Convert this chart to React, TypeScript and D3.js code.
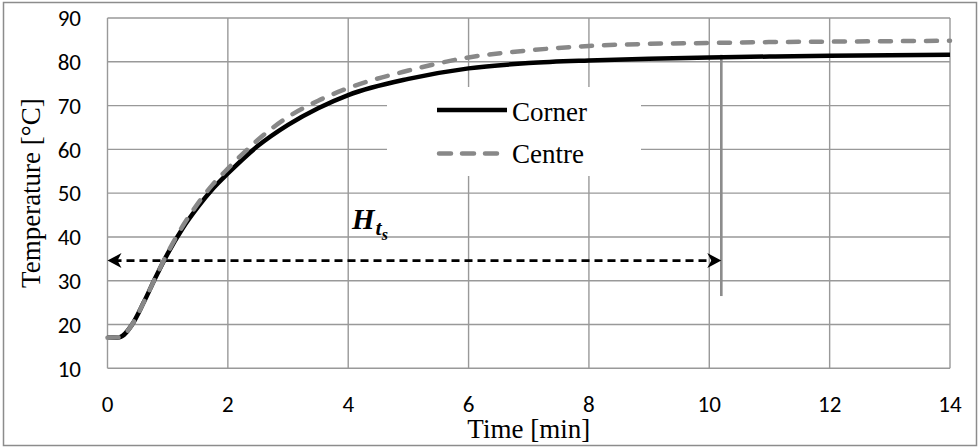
import React from 'react';
import * as d3 from 'd3';

// time [min]
const times = [0, 0.2, 0.4, 0.6, 0.8, 1.0, 1.25, 1.5, 1.75, 2, 2.5, 3, 3.5, 4, 5, 6, 7, 8, 9, 10, 11, 12, 13, 14];
// temperature [°C]
const corner = [17, 17.1, 19.8, 25, 30.8, 36.2, 42, 46.8, 51, 54.5, 60.8, 65.6, 69.4, 72.4, 76.1, 78.5, 79.7, 80.3, 80.7, 81.0, 81.2, 81.4, 81.5, 81.6];
const centre = [17, 17.1, 19.8, 25, 30.8, 36.4, 42.5, 47.6, 52, 55.6, 62.2, 67.4, 71.1, 74, 78, 81, 82.6, 83.6, 84.1, 84.3, 84.5, 84.6, 84.7, 84.8];

const xTicks = [0, 2, 4, 6, 8, 10, 12, 14];
const yTicks = [10, 20, 30, 40, 50, 60, 70, 80, 90];

// settling time marker
const tsTime = 10.2;
const arrowTemp = 34.6;
const markerRange = [26.5, 81.6];

const W = 980;
const H = 448;
const margin = { top: 18, right: 30, bottom: 79.7, left: 107.5 };

const tickFont = "Carlito, Calibri, 'Open Sans', sans-serif";
const serif = "'Liberation Serif', 'Times New Roman', serif";

export default function App() {
  const x = d3.scaleLinear().domain([0, 14]).range([margin.left, W - margin.right]);
  const y = d3.scaleLinear().domain([10, 90]).range([H - margin.bottom, margin.top]);

  const line = d3
    .line<number>()
    .x((_, i) => x(times[i]))
    .y((d) => y(d))
    .curve(d3.curveMonotoneX);

  const ay = y(arrowTemp);
  const ax0 = x(0);
  const ax1 = x(tsTime);

  // legend box
  const lg = { x: 387, y: 87, w: 254, h: 89 };

  return (
    <div style={{ position: 'absolute', left: 0, top: 0 }}>
      <svg width={W} height={H} style={{ display: 'block', background: '#fff' }}>
        <rect x={3.5} y={2.5} width={973} height={443} fill="#fff" stroke="#8c8c8c" strokeWidth={1.5} />

        {/* grid */}
        <g stroke="#999" strokeWidth={1.4}>
          {yTicks.map((t) => (
            <line key={'gy' + t} x1={x(0)} x2={x(14)} y1={y(t)} y2={y(t)} />
          ))}
          {xTicks.map((t) => (
            <line key={'gx' + t} x1={x(t)} x2={x(t)} y1={y(10)} y2={y(90)} />
          ))}
        </g>

        {/* tick labels */}
        <g fontFamily={tickFont} fontSize={23} fill="#000">
          {yTicks.map((t) => (
            <text key={'ly' + t} x={81} y={y(t)} dy="0.36em" textAnchor="end">
              {t}
            </text>
          ))}
          {xTicks.map((t) => (
            <text key={'lx' + t} x={x(t)} y={411.5} textAnchor="middle">
              {t}
            </text>
          ))}
        </g>

        {/* axis titles */}
        <text x={x(7)} y={438} textAnchor="middle" fontFamily={serif} fontSize={27}>
          Time [min]
        </text>
        <text
          transform={`translate(40,${(y(10) + y(90)) / 2}) rotate(-90)`}
          textAnchor="middle"
          fontFamily={serif}
          fontSize={27}
        >
          Temperature [°C]
        </text>

        {/* legend */}
        <rect x={lg.x} y={lg.y} width={lg.w} height={lg.h} fill="#fff" />
        <line x1={437} x2={507} y1={110} y2={110} stroke="#000" strokeWidth={4.5} />
        <text x={512} y={120.5} fontFamily={serif} fontSize={27}>
          Corner
        </text>
        <line
          x1={439}
          x2={497}
          y1={153.5}
          y2={153.5}
          stroke="#888"
          strokeWidth={4.5}
          strokeLinecap="round"
          strokeDasharray="12,11"
        />
        <text x={512} y={163} fontFamily={serif} fontSize={27}>
          Centre
        </text>

        {/* settling time marker */}
        <line x1={ax1} x2={ax1} y1={y(markerRange[0])} y2={y(markerRange[1])} stroke="#8c8c8c" strokeWidth={2.6} />
        <line x1={ax0 + 6} x2={ax1 - 6} y1={ay} y2={ay} stroke="#000" strokeWidth={2.6} strokeDasharray="8,5" />
        <path d={`M${ax0},${ay} L${ax0 + 14},${ay - 7.5} L${ax0 + 10},${ay} L${ax0 + 14},${ay + 7.5} Z`} fill="#000" />
        <path d={`M${ax1},${ay} L${ax1 - 14},${ay - 7.5} L${ax1 - 10},${ay} L${ax1 - 14},${ay + 7.5} Z`} fill="#000" />
        <text x={352} y={228.5} fontFamily={serif} fontWeight="bold" fontStyle="italic" fill="#000">
          <tspan fontSize={29}>H</tspan>
          <tspan fontSize={22} dx={1} dy={6}>t</tspan>
          <tspan fontSize={16} dy={5}>s</tspan>
        </text>

        {/* series */}
        <path d={line(corner) || ''} fill="none" stroke="#000" strokeWidth={4.5} />
        <path
          d={line(centre) || ''}
          fill="none"
          stroke="#888"
          strokeWidth={4.5}
          strokeLinecap="round"
          strokeDasharray="11,12"
        />
      </svg>
    </div>
  );
}
